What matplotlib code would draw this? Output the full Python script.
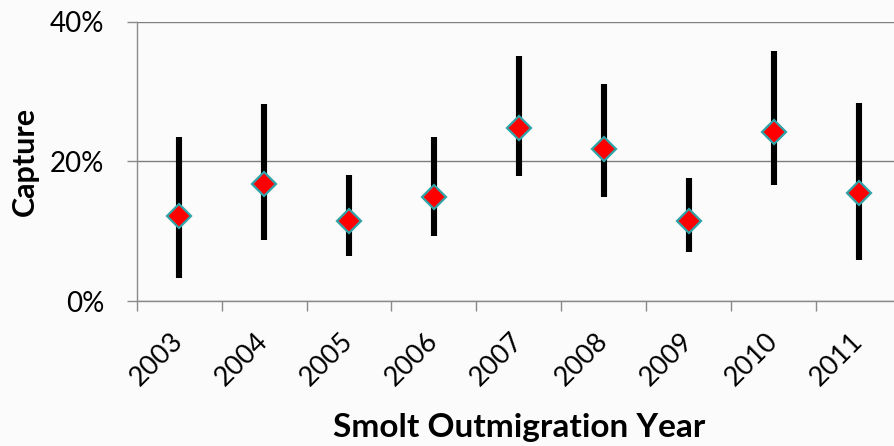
import matplotlib
matplotlib.use("Agg")
import matplotlib.pyplot as plt
from matplotlib.ticker import FixedLocator, FuncFormatter

years = ["2003", "2004", "2005", "2006", "2007", "2008", "2009", "2010", "2011"]
capture = [12.1, 16.8, 11.5, 14.9, 24.8, 21.7, 11.5, 24.2, 15.4]
upper = [23.5, 28.2, 18.0, 23.4, 35.0, 31.0, 17.6, 35.8, 28.4]
lower = [3.3, 8.8, 6.5, 9.3, 17.9, 14.9, 7.0, 16.6, 5.9]
y_ticks = [0, 20, 40]

plt.rcParams['font.family'] = ['Lato', 'DejaVu Sans']

W, H = 895, 446
fig = plt.figure(figsize=(W / 100, H / 100), dpi=100)
bg = "#fbfbfb"
fig.patch.set_facecolor(bg)
ax = fig.add_axes([136.7 / W, 1 - 301 / H, (901 - 136.7) / W, (301 - 21.5) / H])
ax.set_facecolor(bg)

x = list(range(1, len(years) + 1))
err_lo = [c - l for c, l in zip(capture, lower)]
err_hi = [u - c for c, u in zip(capture, upper)]
ax.errorbar(x, capture, yerr=[err_lo, err_hi], fmt='none', ecolor='black',
            elinewidth=4.4, capsize=0, zorder=3)
ax.plot(x, capture, linestyle='none', marker='D', markersize=12.5,
        markerfacecolor='#ff0000', markeredgecolor='#2fa3a6', markeredgewidth=1.6,
        zorder=4)

ax.set_xlim(0.5, len(years) + 0.5)
ax.set_ylim(0, 40)
ax.yaxis.set_major_locator(FixedLocator(y_ticks))
ax.yaxis.set_major_formatter(FuncFormatter(lambda v, p: f"{int(v)}%"))
ax.grid(axis='y', color='#7e7e7e', linewidth=1.0)
ax.set_axisbelow(True)

ax.set_xticks(x)
ax.set_xticklabels(years, rotation=45, ha='right', va='center', rotation_mode='anchor')
ax.set_xticks([i + 0.5 for i in range(0, len(years) + 1)], minor=True)
ax.tick_params(axis='x', which='major', length=0, labelsize=19.5, pad=26, colors='#000000')
ax.tick_params(axis='x', which='minor', length=7.2, width=1, color='#8a8a8a', direction='out')
ax.tick_params(axis='y', which='major', length=7.2, width=1, color='#8a8a8a',
               labelsize=20, pad=16)

for s in ['top', 'right']:
    ax.spines[s].set_visible(False)
for s in ['left', 'bottom']:
    ax.spines[s].set_color('#8a8a8a')
    ax.spines[s].set_linewidth(1.0)

fig.text(25 / W, 1 - 161 / H, "Capture", rotation=90, ha='center', va='center',
         fontsize=22, fontweight='bold')
fig.text(519 / W, 1 - 427 / H, "Smolt Outmigration Year", ha='center', va='center',
         fontsize=24, fontweight='bold')

fig.savefig("out.png", dpi=100, facecolor=bg)
